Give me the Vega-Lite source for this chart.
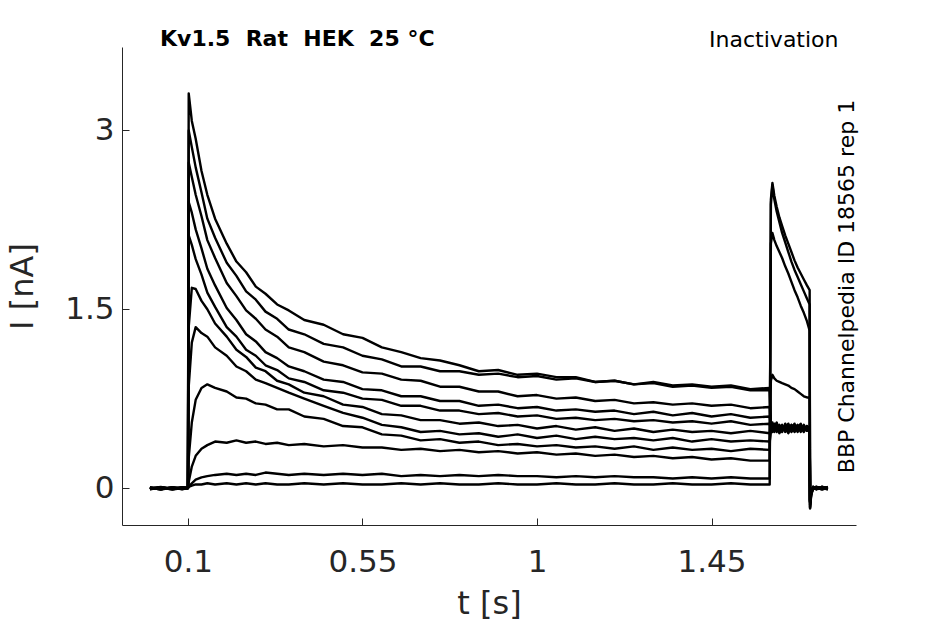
{
"$schema": "https://vega.github.io/schema/vega-lite/v6.json",
"width": 734, "height": 478,
"autosize": {"type": "none"},
"padding": {"left": 122, "top": 47, "right": 89, "bottom": 99},
"background": "white",
"config": {"view": {"stroke": null}, "font": "DejaVu Sans", "axis": {"grid": false}},
"title": {"text": "Kv1.5\u00a0 Rat\u00a0 HEK\u00a0 25 °C", "anchor": "start", "frame": "group", "fontSize": 22, "fontWeight": "bold", "color": "black", "font": "DejaVu Sans", "dx": 38, "dy": 44, "baseline": "alphabetic"},
"data": {"values": [
{"s":1,"t":0.002,"i":-0.01},{"s":1,"t":0.03,"i":0.005},{"s":1,"t":0.06,"i":-0.012},{"s":1,"t":0.085,"i":0},{"s":1,"t":0.1,"i":0},
{"s":1,"t":0.102,"i":3.31},{"s":1,"t":0.11,"i":3.08},{"s":1,"t":0.12,"i":2.93},{"s":1,"t":0.135,"i":2.66},{"s":1,"t":0.15,"i":2.46},{"s":1,"t":0.17,"i":2.26},{"s":1,"t":0.2,"i":2.05},{"s":1,"t":0.225,"i":1.9},{"s":1,"t":0.25,"i":1.81},{"s":1,"t":0.275,"i":1.69},{"s":1,"t":0.3,"i":1.63},{"s":1,"t":0.33,"i":1.54},{"s":1,"t":0.36,"i":1.49},{"s":1,"t":0.4,"i":1.41},{"s":1,"t":0.45,"i":1.37},{"s":1,"t":0.5,"i":1.29},{"s":1,"t":0.55,"i":1.26},{"s":1,"t":0.6,"i":1.18},{"s":1,"t":0.65,"i":1.14},{"s":1,"t":0.7,"i":1.09},{"s":1,"t":0.75,"i":1.07},{"s":1,"t":0.8,"i":1.03},{"s":1,"t":0.85,"i":0.98},{"s":1,"t":0.9,"i":0.99},{"s":1,"t":0.95,"i":0.95},{"s":1,"t":1.0,"i":0.96},{"s":1,"t":1.05,"i":0.93},{"s":1,"t":1.1,"i":0.93},{"s":1,"t":1.15,"i":0.89},{"s":1,"t":1.2,"i":0.9},{"s":1,"t":1.25,"i":0.87},{"s":1,"t":1.3,"i":0.89},{"s":1,"t":1.35,"i":0.86},{"s":1,"t":1.4,"i":0.87},{"s":1,"t":1.45,"i":0.85},{"s":1,"t":1.5,"i":0.86},{"s":1,"t":1.55,"i":0.83},{"s":1,"t":1.6,"i":0.84},
{"s":1,"t":1.603,"i":0.5},{"s":1,"t":1.607,"i":0.55},{"s":1,"t":1.612,"i":0.47},{"s":1,"t":1.618,"i":0.54},{"s":1,"t":1.625,"i":0.49},{"s":1,"t":1.632,"i":0.53},{"s":1,"t":1.64,"i":0.47},{"s":1,"t":1.648,"i":0.52},{"s":1,"t":1.656,"i":0.49},{"s":1,"t":1.664,"i":0.54},{"s":1,"t":1.672,"i":0.48},{"s":1,"t":1.68,"i":0.51},{"s":1,"t":1.688,"i":0.47},{"s":1,"t":1.696,"i":0.52},{"s":1,"t":1.703,"i":0.5},
{"s":1,"t":1.704,"i":-0.1},{"s":1,"t":1.707,"i":-0.03},{"s":1,"t":1.712,"i":0},{"s":1,"t":1.72,"i":0.01},{"s":1,"t":1.735,"i":-0.01},{"s":1,"t":1.75,"i":0},

{"s":2,"t":0.002,"i":0},{"s":2,"t":0.03,"i":-0.01},{"s":2,"t":0.06,"i":0.008},{"s":2,"t":0.085,"i":-0.005},{"s":2,"t":0.1,"i":0},
{"s":2,"t":0.102,"i":3.0},{"s":2,"t":0.11,"i":2.86},{"s":2,"t":0.12,"i":2.69},{"s":2,"t":0.135,"i":2.48},{"s":2,"t":0.15,"i":2.26},{"s":2,"t":0.17,"i":2.1},{"s":2,"t":0.2,"i":1.89},{"s":2,"t":0.225,"i":1.78},{"s":2,"t":0.25,"i":1.65},{"s":2,"t":0.275,"i":1.58},{"s":2,"t":0.3,"i":1.48},{"s":2,"t":0.33,"i":1.42},{"s":2,"t":0.36,"i":1.33},{"s":2,"t":0.4,"i":1.29},{"s":2,"t":0.45,"i":1.21},{"s":2,"t":0.5,"i":1.18},{"s":2,"t":0.55,"i":1.11},{"s":2,"t":0.6,"i":1.08},{"s":2,"t":0.65,"i":1.02},{"s":2,"t":0.7,"i":1.02},{"s":2,"t":0.75,"i":0.98},{"s":2,"t":0.8,"i":0.98},{"s":2,"t":0.85,"i":0.95},{"s":2,"t":0.9,"i":0.96},{"s":2,"t":0.95,"i":0.93},{"s":2,"t":1.0,"i":0.94},{"s":2,"t":1.05,"i":0.91},{"s":2,"t":1.1,"i":0.92},{"s":2,"t":1.15,"i":0.89},{"s":2,"t":1.2,"i":0.9},{"s":2,"t":1.25,"i":0.87},{"s":2,"t":1.3,"i":0.88},{"s":2,"t":1.35,"i":0.85},{"s":2,"t":1.4,"i":0.86},{"s":2,"t":1.45,"i":0.84},{"s":2,"t":1.5,"i":0.85},{"s":2,"t":1.55,"i":0.82},{"s":2,"t":1.6,"i":0.82},
{"s":2,"t":1.603,"i":0.49},{"s":2,"t":1.607,"i":0.53},{"s":2,"t":1.612,"i":0.48},{"s":2,"t":1.618,"i":0.52},{"s":2,"t":1.625,"i":0.46},{"s":2,"t":1.632,"i":0.51},{"s":2,"t":1.64,"i":0.49},{"s":2,"t":1.648,"i":0.54},{"s":2,"t":1.656,"i":0.47},{"s":2,"t":1.664,"i":0.5},{"s":2,"t":1.672,"i":0.53},{"s":2,"t":1.68,"i":0.48},{"s":2,"t":1.688,"i":0.51},{"s":2,"t":1.696,"i":0.49},{"s":2,"t":1.703,"i":0.5},
{"s":2,"t":1.704,"i":-0.11},{"s":2,"t":1.707,"i":-0.04},{"s":2,"t":1.712,"i":0.01},{"s":2,"t":1.72,"i":0},{"s":2,"t":1.735,"i":0.01},{"s":2,"t":1.75,"i":-0.01},

{"s":3,"t":0.002,"i":-0.008},{"s":3,"t":0.03,"i":0.004},{"s":3,"t":0.06,"i":-0.006},{"s":3,"t":0.085,"i":0.006},{"s":3,"t":0.1,"i":0},
{"s":3,"t":0.102,"i":2.73},{"s":3,"t":0.11,"i":2.61},{"s":3,"t":0.12,"i":2.46},{"s":3,"t":0.135,"i":2.28},{"s":3,"t":0.15,"i":2.08},{"s":3,"t":0.17,"i":1.93},{"s":3,"t":0.2,"i":1.72},{"s":3,"t":0.225,"i":1.61},{"s":3,"t":0.25,"i":1.49},{"s":3,"t":0.275,"i":1.42},{"s":3,"t":0.3,"i":1.33},{"s":3,"t":0.33,"i":1.27},{"s":3,"t":0.36,"i":1.18},{"s":3,"t":0.4,"i":1.14},{"s":3,"t":0.45,"i":1.06},{"s":3,"t":0.5,"i":1.03},{"s":3,"t":0.55,"i":0.97},{"s":3,"t":0.6,"i":0.96},{"s":3,"t":0.65,"i":0.91},{"s":3,"t":0.7,"i":0.9},{"s":3,"t":0.75,"i":0.85},{"s":3,"t":0.8,"i":0.85},{"s":3,"t":0.85,"i":0.81},{"s":3,"t":0.9,"i":0.81},{"s":3,"t":0.95,"i":0.77},{"s":3,"t":1.0,"i":0.78},{"s":3,"t":1.05,"i":0.75},{"s":3,"t":1.1,"i":0.76},{"s":3,"t":1.15,"i":0.73},{"s":3,"t":1.2,"i":0.74},{"s":3,"t":1.25,"i":0.71},{"s":3,"t":1.3,"i":0.72},{"s":3,"t":1.35,"i":0.7},{"s":3,"t":1.4,"i":0.71},{"s":3,"t":1.45,"i":0.69},{"s":3,"t":1.5,"i":0.7},{"s":3,"t":1.55,"i":0.67},{"s":3,"t":1.6,"i":0.68},
{"s":3,"t":1.603,"i":0.51},{"s":3,"t":1.607,"i":0.49},{"s":3,"t":1.612,"i":0.54},{"s":3,"t":1.618,"i":0.47},{"s":3,"t":1.625,"i":0.52},{"s":3,"t":1.632,"i":0.48},{"s":3,"t":1.64,"i":0.53},{"s":3,"t":1.648,"i":0.49},{"s":3,"t":1.656,"i":0.52},{"s":3,"t":1.664,"i":0.47},{"s":3,"t":1.672,"i":0.51},{"s":3,"t":1.68,"i":0.54},{"s":3,"t":1.688,"i":0.48},{"s":3,"t":1.696,"i":0.52},{"s":3,"t":1.703,"i":0.49},
{"s":3,"t":1.704,"i":-0.1},{"s":3,"t":1.707,"i":-0.02},{"s":3,"t":1.712,"i":0},{"s":3,"t":1.72,"i":-0.01},{"s":3,"t":1.735,"i":0.01},{"s":3,"t":1.75,"i":0},

{"s":4,"t":0.002,"i":0.006},{"s":4,"t":0.03,"i":-0.008},{"s":4,"t":0.06,"i":0.003},{"s":4,"t":0.085,"i":-0.01},{"s":4,"t":0.1,"i":0},
{"s":4,"t":0.102,"i":2.4},{"s":4,"t":0.11,"i":2.31},{"s":4,"t":0.12,"i":2.17},{"s":4,"t":0.135,"i":2.01},{"s":4,"t":0.15,"i":1.84},{"s":4,"t":0.17,"i":1.7},{"s":4,"t":0.2,"i":1.51},{"s":4,"t":0.225,"i":1.41},{"s":4,"t":0.25,"i":1.29},{"s":4,"t":0.275,"i":1.23},{"s":4,"t":0.3,"i":1.14},{"s":4,"t":0.33,"i":1.09},{"s":4,"t":0.36,"i":1.02},{"s":4,"t":0.4,"i":0.98},{"s":4,"t":0.45,"i":0.91},{"s":4,"t":0.5,"i":0.89},{"s":4,"t":0.55,"i":0.83},{"s":4,"t":0.6,"i":0.82},{"s":4,"t":0.65,"i":0.77},{"s":4,"t":0.7,"i":0.77},{"s":4,"t":0.75,"i":0.73},{"s":4,"t":0.8,"i":0.73},{"s":4,"t":0.85,"i":0.69},{"s":4,"t":0.9,"i":0.7},{"s":4,"t":0.95,"i":0.67},{"s":4,"t":1.0,"i":0.68},{"s":4,"t":1.05,"i":0.65},{"s":4,"t":1.1,"i":0.66},{"s":4,"t":1.15,"i":0.64},{"s":4,"t":1.2,"i":0.65},{"s":4,"t":1.25,"i":0.62},{"s":4,"t":1.3,"i":0.64},{"s":4,"t":1.35,"i":0.61},{"s":4,"t":1.4,"i":0.63},{"s":4,"t":1.45,"i":0.6},{"s":4,"t":1.5,"i":0.62},{"s":4,"t":1.55,"i":0.59},{"s":4,"t":1.6,"i":0.6},
{"s":4,"t":1.603,"i":0.52},{"s":4,"t":1.607,"i":0.47},{"s":4,"t":1.612,"i":0.51},{"s":4,"t":1.618,"i":0.55},{"s":4,"t":1.625,"i":0.48},{"s":4,"t":1.632,"i":0.52},{"s":4,"t":1.64,"i":0.5},{"s":4,"t":1.648,"i":0.46},{"s":4,"t":1.656,"i":0.53},{"s":4,"t":1.664,"i":0.49},{"s":4,"t":1.672,"i":0.52},{"s":4,"t":1.68,"i":0.47},{"s":4,"t":1.688,"i":0.53},{"s":4,"t":1.696,"i":0.48},{"s":4,"t":1.703,"i":0.51},
{"s":4,"t":1.704,"i":-0.12},{"s":4,"t":1.707,"i":-0.03},{"s":4,"t":1.712,"i":0.01},{"s":4,"t":1.72,"i":0},{"s":4,"t":1.735,"i":-0.01},{"s":4,"t":1.75,"i":0.01},

{"s":5,"t":0.002,"i":-0.004},{"s":5,"t":0.03,"i":0.01},{"s":5,"t":0.06,"i":-0.009},{"s":5,"t":0.085,"i":0.004},{"s":5,"t":0.1,"i":0},
{"s":5,"t":0.102,"i":2.12},{"s":5,"t":0.11,"i":2.04},{"s":5,"t":0.12,"i":1.92},{"s":5,"t":0.135,"i":1.79},{"s":5,"t":0.15,"i":1.64},{"s":5,"t":0.17,"i":1.52},{"s":5,"t":0.2,"i":1.35},{"s":5,"t":0.225,"i":1.27},{"s":5,"t":0.25,"i":1.16},{"s":5,"t":0.275,"i":1.11},{"s":5,"t":0.3,"i":1.03},{"s":5,"t":0.33,"i":0.99},{"s":5,"t":0.36,"i":0.92},{"s":5,"t":0.4,"i":0.89},{"s":5,"t":0.45,"i":0.82},{"s":5,"t":0.5,"i":0.8},{"s":5,"t":0.55,"i":0.75},{"s":5,"t":0.6,"i":0.74},{"s":5,"t":0.65,"i":0.69},{"s":5,"t":0.7,"i":0.69},{"s":5,"t":0.75,"i":0.65},{"s":5,"t":0.8,"i":0.65},{"s":5,"t":0.85,"i":0.62},{"s":5,"t":0.9,"i":0.63},{"s":5,"t":0.95,"i":0.6},{"s":5,"t":1.0,"i":0.61},{"s":5,"t":1.05,"i":0.58},{"s":5,"t":1.1,"i":0.59},{"s":5,"t":1.15,"i":0.57},{"s":5,"t":1.2,"i":0.58},{"s":5,"t":1.25,"i":0.56},{"s":5,"t":1.3,"i":0.57},{"s":5,"t":1.35,"i":0.55},{"s":5,"t":1.4,"i":0.56},{"s":5,"t":1.45,"i":0.54},{"s":5,"t":1.5,"i":0.56},{"s":5,"t":1.55,"i":0.53},{"s":5,"t":1.6,"i":0.54},
{"s":5,"t":1.603,"i":0.48},{"s":5,"t":1.607,"i":0.52},{"s":5,"t":1.612,"i":0.49},{"s":5,"t":1.618,"i":0.53},{"s":5,"t":1.625,"i":0.5},{"s":5,"t":1.632,"i":0.47},{"s":5,"t":1.64,"i":0.54},{"s":5,"t":1.648,"i":0.49},{"s":5,"t":1.656,"i":0.51},{"s":5,"t":1.664,"i":0.52},{"s":5,"t":1.672,"i":0.47},{"s":5,"t":1.68,"i":0.53},{"s":5,"t":1.688,"i":0.49},{"s":5,"t":1.696,"i":0.51},{"s":5,"t":1.703,"i":0.5},
{"s":5,"t":1.704,"i":-0.11},{"s":5,"t":1.707,"i":-0.02},{"s":5,"t":1.712,"i":-0.01},{"s":5,"t":1.72,"i":0.01},{"s":5,"t":1.735,"i":0},{"s":5,"t":1.75,"i":0},

{"s":6,"t":0.002,"i":0.004},{"s":6,"t":0.03,"i":-0.012},{"s":6,"t":0.06,"i":0.005},{"s":6,"t":0.085,"i":-0.006},{"s":6,"t":0.1,"i":0},
{"s":6,"t":0.102,"i":1.35},{"s":6,"t":0.11,"i":1.68},{"s":6,"t":0.12,"i":1.67},{"s":6,"t":0.135,"i":1.57},{"s":6,"t":0.15,"i":1.5},{"s":6,"t":0.17,"i":1.38},{"s":6,"t":0.2,"i":1.27},{"s":6,"t":0.225,"i":1.16},{"s":6,"t":0.25,"i":1.1},{"s":6,"t":0.275,"i":1.01},{"s":6,"t":0.3,"i":0.98},{"s":6,"t":0.33,"i":0.9},{"s":6,"t":0.36,"i":0.87},{"s":6,"t":0.4,"i":0.8},{"s":6,"t":0.45,"i":0.77},{"s":6,"t":0.5,"i":0.7},{"s":6,"t":0.55,"i":0.68},{"s":6,"t":0.6,"i":0.62},{"s":6,"t":0.65,"i":0.61},{"s":6,"t":0.7,"i":0.57},{"s":6,"t":0.75,"i":0.57},{"s":6,"t":0.8,"i":0.54},{"s":6,"t":0.85,"i":0.55},{"s":6,"t":0.9,"i":0.52},{"s":6,"t":0.95,"i":0.53},{"s":6,"t":1.0,"i":0.5},{"s":6,"t":1.05,"i":0.52},{"s":6,"t":1.1,"i":0.49},{"s":6,"t":1.15,"i":0.51},{"s":6,"t":1.2,"i":0.48},{"s":6,"t":1.25,"i":0.5},{"s":6,"t":1.3,"i":0.47},{"s":6,"t":1.35,"i":0.49},{"s":6,"t":1.4,"i":0.47},{"s":6,"t":1.45,"i":0.48},{"s":6,"t":1.5,"i":0.46},{"s":6,"t":1.55,"i":0.48},{"s":6,"t":1.6,"i":0.46},
{"s":6,"t":1.603,"i":0.5},{"s":6,"t":1.607,"i":0.54},{"s":6,"t":1.612,"i":0.48},{"s":6,"t":1.618,"i":0.51},{"s":6,"t":1.625,"i":0.53},{"s":6,"t":1.632,"i":0.49},{"s":6,"t":1.64,"i":0.51},{"s":6,"t":1.648,"i":0.47},{"s":6,"t":1.656,"i":0.53},{"s":6,"t":1.664,"i":0.5},{"s":6,"t":1.672,"i":0.49},{"s":6,"t":1.68,"i":0.52},{"s":6,"t":1.688,"i":0.5},{"s":6,"t":1.696,"i":0.48},{"s":6,"t":1.703,"i":0.51},
{"s":6,"t":1.704,"i":-0.12},{"s":6,"t":1.707,"i":-0.04},{"s":6,"t":1.712,"i":0},{"s":6,"t":1.72,"i":0.01},{"s":6,"t":1.735,"i":0},{"s":6,"t":1.75,"i":-0.01},

{"s":7,"t":0.002,"i":-0.006},{"s":7,"t":0.03,"i":0.007},{"s":7,"t":0.06,"i":-0.004},{"s":7,"t":0.085,"i":0.008},{"s":7,"t":0.1,"i":0},
{"s":7,"t":0.102,"i":0.85},{"s":7,"t":0.11,"i":1.22},{"s":7,"t":0.12,"i":1.35},{"s":7,"t":0.135,"i":1.3},{"s":7,"t":0.15,"i":1.27},{"s":7,"t":0.17,"i":1.18},{"s":7,"t":0.2,"i":1.11},{"s":7,"t":0.225,"i":1.02},{"s":7,"t":0.25,"i":0.98},{"s":7,"t":0.275,"i":0.91},{"s":7,"t":0.3,"i":0.88},{"s":7,"t":0.33,"i":0.84},{"s":7,"t":0.36,"i":0.8},{"s":7,"t":0.4,"i":0.75},{"s":7,"t":0.45,"i":0.69},{"s":7,"t":0.5,"i":0.63},{"s":7,"t":0.55,"i":0.59},{"s":7,"t":0.6,"i":0.53},{"s":7,"t":0.65,"i":0.51},{"s":7,"t":0.7,"i":0.47},{"s":7,"t":0.75,"i":0.48},{"s":7,"t":0.8,"i":0.45},{"s":7,"t":0.85,"i":0.46},{"s":7,"t":0.9,"i":0.43},{"s":7,"t":0.95,"i":0.45},{"s":7,"t":1.0,"i":0.42},{"s":7,"t":1.05,"i":0.44},{"s":7,"t":1.1,"i":0.41},{"s":7,"t":1.15,"i":0.43},{"s":7,"t":1.2,"i":0.41},{"s":7,"t":1.25,"i":0.42},{"s":7,"t":1.3,"i":0.4},{"s":7,"t":1.35,"i":0.42},{"s":7,"t":1.4,"i":0.39},{"s":7,"t":1.45,"i":0.41},{"s":7,"t":1.5,"i":0.39},{"s":7,"t":1.55,"i":0.4},{"s":7,"t":1.6,"i":0.39},
{"s":7,"t":1.603,"i":0.47},{"s":7,"t":1.607,"i":0.51},{"s":7,"t":1.612,"i":0.53},{"s":7,"t":1.618,"i":0.48},{"s":7,"t":1.625,"i":0.52},{"s":7,"t":1.632,"i":0.5},{"s":7,"t":1.64,"i":0.48},{"s":7,"t":1.648,"i":0.53},{"s":7,"t":1.656,"i":0.5},{"s":7,"t":1.664,"i":0.48},{"s":7,"t":1.672,"i":0.52},{"s":7,"t":1.68,"i":0.49},{"s":7,"t":1.688,"i":0.52},{"s":7,"t":1.696,"i":0.5},{"s":7,"t":1.703,"i":0.49},
{"s":7,"t":1.704,"i":-0.12},{"s":7,"t":1.707,"i":-0.03},{"s":7,"t":1.712,"i":0},{"s":7,"t":1.72,"i":-0.01},{"s":7,"t":1.735,"i":0.01},{"s":7,"t":1.75,"i":0},

{"s":8,"t":0.002,"i":0.002},{"s":8,"t":0.03,"i":-0.01},{"s":8,"t":0.06,"i":0.006},{"s":8,"t":0.085,"i":-0.003},{"s":8,"t":0.1,"i":0},
{"s":8,"t":0.102,"i":0.25},{"s":8,"t":0.11,"i":0.55},{"s":8,"t":0.12,"i":0.74},{"s":8,"t":0.135,"i":0.84},{"s":8,"t":0.15,"i":0.87},{"s":8,"t":0.17,"i":0.84},{"s":8,"t":0.2,"i":0.81},{"s":8,"t":0.225,"i":0.76},{"s":8,"t":0.25,"i":0.75},{"s":8,"t":0.275,"i":0.71},{"s":8,"t":0.3,"i":0.7},{"s":8,"t":0.33,"i":0.66},{"s":8,"t":0.36,"i":0.66},{"s":8,"t":0.4,"i":0.6},{"s":8,"t":0.45,"i":0.58},{"s":8,"t":0.5,"i":0.52},{"s":8,"t":0.55,"i":0.51},{"s":8,"t":0.6,"i":0.45},{"s":8,"t":0.65,"i":0.44},{"s":8,"t":0.7,"i":0.4},{"s":8,"t":0.75,"i":0.41},{"s":8,"t":0.8,"i":0.38},{"s":8,"t":0.85,"i":0.39},{"s":8,"t":0.9,"i":0.36},{"s":8,"t":0.95,"i":0.37},{"s":8,"t":1.0,"i":0.35},{"s":8,"t":1.05,"i":0.36},{"s":8,"t":1.1,"i":0.34},{"s":8,"t":1.15,"i":0.35},{"s":8,"t":1.2,"i":0.33},{"s":8,"t":1.25,"i":0.35},{"s":8,"t":1.3,"i":0.32},{"s":8,"t":1.35,"i":0.34},{"s":8,"t":1.4,"i":0.32},{"s":8,"t":1.45,"i":0.33},{"s":8,"t":1.5,"i":0.31},{"s":8,"t":1.55,"i":0.33},{"s":8,"t":1.6,"i":0.32},
{"s":8,"t":1.603,"i":0.9},{"s":8,"t":1.607,"i":0.95},{"s":8,"t":1.612,"i":0.92},{"s":8,"t":1.618,"i":0.9},{"s":8,"t":1.625,"i":0.89},{"s":8,"t":1.632,"i":0.88},{"s":8,"t":1.64,"i":0.87},{"s":8,"t":1.648,"i":0.86},{"s":8,"t":1.656,"i":0.84},{"s":8,"t":1.664,"i":0.83},{"s":8,"t":1.672,"i":0.81},{"s":8,"t":1.68,"i":0.79},{"s":8,"t":1.688,"i":0.77},{"s":8,"t":1.696,"i":0.76},{"s":8,"t":1.703,"i":0.76},
{"s":8,"t":1.704,"i":-0.14},{"s":8,"t":1.707,"i":-0.05},{"s":8,"t":1.712,"i":0.01},{"s":8,"t":1.72,"i":0},{"s":8,"t":1.735,"i":-0.01},{"s":8,"t":1.75,"i":0},

{"s":9,"t":0.002,"i":-0.009},{"s":9,"t":0.03,"i":0.003},{"s":9,"t":0.06,"i":-0.01},{"s":9,"t":0.085,"i":0.005},{"s":9,"t":0.1,"i":0},
{"s":9,"t":0.102,"i":0.05},{"s":9,"t":0.11,"i":0.18},{"s":9,"t":0.12,"i":0.27},{"s":9,"t":0.135,"i":0.33},{"s":9,"t":0.15,"i":0.36},{"s":9,"t":0.17,"i":0.39},{"s":9,"t":0.2,"i":0.38},{"s":9,"t":0.225,"i":0.4},{"s":9,"t":0.25,"i":0.38},{"s":9,"t":0.275,"i":0.39},{"s":9,"t":0.3,"i":0.37},{"s":9,"t":0.33,"i":0.38},{"s":9,"t":0.36,"i":0.36},{"s":9,"t":0.4,"i":0.37},{"s":9,"t":0.45,"i":0.35},{"s":9,"t":0.5,"i":0.36},{"s":9,"t":0.55,"i":0.34},{"s":9,"t":0.6,"i":0.34},{"s":9,"t":0.65,"i":0.32},{"s":9,"t":0.7,"i":0.33},{"s":9,"t":0.75,"i":0.31},{"s":9,"t":0.8,"i":0.32},{"s":9,"t":0.85,"i":0.3},{"s":9,"t":0.9,"i":0.31},{"s":9,"t":0.95,"i":0.29},{"s":9,"t":1.0,"i":0.3},{"s":9,"t":1.05,"i":0.28},{"s":9,"t":1.1,"i":0.29},{"s":9,"t":1.15,"i":0.27},{"s":9,"t":1.2,"i":0.28},{"s":9,"t":1.25,"i":0.26},{"s":9,"t":1.3,"i":0.27},{"s":9,"t":1.35,"i":0.25},{"s":9,"t":1.4,"i":0.26},{"s":9,"t":1.45,"i":0.24},{"s":9,"t":1.5,"i":0.25},{"s":9,"t":1.55,"i":0.23},{"s":9,"t":1.6,"i":0.23},
{"s":9,"t":1.603,"i":2.05},{"s":9,"t":1.607,"i":2.14},{"s":9,"t":1.612,"i":2.08},{"s":9,"t":1.618,"i":2.03},{"s":9,"t":1.625,"i":1.98},{"s":9,"t":1.632,"i":1.93},{"s":9,"t":1.64,"i":1.86},{"s":9,"t":1.648,"i":1.8},{"s":9,"t":1.656,"i":1.73},{"s":9,"t":1.664,"i":1.66},{"s":9,"t":1.672,"i":1.6},{"s":9,"t":1.68,"i":1.53},{"s":9,"t":1.688,"i":1.47},{"s":9,"t":1.696,"i":1.4},{"s":9,"t":1.703,"i":1.32},
{"s":9,"t":1.704,"i":-0.17},{"s":9,"t":1.707,"i":-0.06},{"s":9,"t":1.712,"i":0},{"s":9,"t":1.72,"i":0.01},{"s":9,"t":1.735,"i":0},{"s":9,"t":1.75,"i":-0.01},

{"s":10,"t":0.002,"i":0.005},{"s":10,"t":0.03,"i":-0.006},{"s":10,"t":0.06,"i":0.002},{"s":10,"t":0.085,"i":-0.008},{"s":10,"t":0.1,"i":0},
{"s":10,"t":0.102,"i":0.01},{"s":10,"t":0.11,"i":0.04},{"s":10,"t":0.12,"i":0.07},{"s":10,"t":0.135,"i":0.09},{"s":10,"t":0.15,"i":0.1},{"s":10,"t":0.17,"i":0.11},{"s":10,"t":0.2,"i":0.12},{"s":10,"t":0.225,"i":0.11},{"s":10,"t":0.25,"i":0.12},{"s":10,"t":0.275,"i":0.11},{"s":10,"t":0.3,"i":0.13},{"s":10,"t":0.33,"i":0.12},{"s":10,"t":0.36,"i":0.11},{"s":10,"t":0.4,"i":0.12},{"s":10,"t":0.45,"i":0.11},{"s":10,"t":0.5,"i":0.12},{"s":10,"t":0.55,"i":0.11},{"s":10,"t":0.6,"i":0.12},{"s":10,"t":0.65,"i":0.1},{"s":10,"t":0.7,"i":0.11},{"s":10,"t":0.75,"i":0.1},{"s":10,"t":0.8,"i":0.11},{"s":10,"t":0.85,"i":0.1},{"s":10,"t":0.9,"i":0.11},{"s":10,"t":0.95,"i":0.1},{"s":10,"t":1.0,"i":0.1},{"s":10,"t":1.05,"i":0.09},{"s":10,"t":1.1,"i":0.1},{"s":10,"t":1.15,"i":0.09},{"s":10,"t":1.2,"i":0.1},{"s":10,"t":1.25,"i":0.09},{"s":10,"t":1.3,"i":0.09},{"s":10,"t":1.35,"i":0.08},{"s":10,"t":1.4,"i":0.09},{"s":10,"t":1.45,"i":0.08},{"s":10,"t":1.5,"i":0.09},{"s":10,"t":1.55,"i":0.08},{"s":10,"t":1.6,"i":0.08},
{"s":10,"t":1.603,"i":2.38},{"s":10,"t":1.607,"i":2.54},{"s":10,"t":1.612,"i":2.42},{"s":10,"t":1.618,"i":2.32},{"s":10,"t":1.625,"i":2.23},{"s":10,"t":1.632,"i":2.14},{"s":10,"t":1.64,"i":2.06},{"s":10,"t":1.648,"i":1.98},{"s":10,"t":1.656,"i":1.9},{"s":10,"t":1.664,"i":1.83},{"s":10,"t":1.672,"i":1.77},{"s":10,"t":1.68,"i":1.71},{"s":10,"t":1.688,"i":1.65},{"s":10,"t":1.696,"i":1.59},{"s":10,"t":1.703,"i":1.54},
{"s":10,"t":1.704,"i":-0.17},{"s":10,"t":1.707,"i":-0.05},{"s":10,"t":1.712,"i":-0.01},{"s":10,"t":1.72,"i":0},{"s":10,"t":1.735,"i":0.01},{"s":10,"t":1.75,"i":0},

{"s":11,"t":0.002,"i":-0.003},{"s":11,"t":0.03,"i":0.008},{"s":11,"t":0.06,"i":-0.007},{"s":11,"t":0.085,"i":0.002},{"s":11,"t":0.1,"i":0},
{"s":11,"t":0.102,"i":0.01},{"s":11,"t":0.11,"i":0.02},{"s":11,"t":0.12,"i":0.03},{"s":11,"t":0.135,"i":0.03},{"s":11,"t":0.15,"i":0.04},{"s":11,"t":0.17,"i":0.03},{"s":11,"t":0.2,"i":0.04},{"s":11,"t":0.225,"i":0.03},{"s":11,"t":0.25,"i":0.04},{"s":11,"t":0.275,"i":0.03},{"s":11,"t":0.3,"i":0.04},{"s":11,"t":0.33,"i":0.03},{"s":11,"t":0.36,"i":0.03},{"s":11,"t":0.4,"i":0.04},{"s":11,"t":0.45,"i":0.03},{"s":11,"t":0.5,"i":0.04},{"s":11,"t":0.55,"i":0.03},{"s":11,"t":0.6,"i":0.03},{"s":11,"t":0.65,"i":0.04},{"s":11,"t":0.7,"i":0.03},{"s":11,"t":0.75,"i":0.04},{"s":11,"t":0.8,"i":0.03},{"s":11,"t":0.85,"i":0.03},{"s":11,"t":0.9,"i":0.04},{"s":11,"t":0.95,"i":0.03},{"s":11,"t":1.0,"i":0.03},{"s":11,"t":1.05,"i":0.04},{"s":11,"t":1.1,"i":0.03},{"s":11,"t":1.15,"i":0.03},{"s":11,"t":1.2,"i":0.04},{"s":11,"t":1.25,"i":0.03},{"s":11,"t":1.3,"i":0.03},{"s":11,"t":1.35,"i":0.04},{"s":11,"t":1.4,"i":0.03},{"s":11,"t":1.45,"i":0.03},{"s":11,"t":1.5,"i":0.04},{"s":11,"t":1.55,"i":0.03},{"s":11,"t":1.6,"i":0.03},
{"s":11,"t":1.603,"i":2.42},{"s":11,"t":1.607,"i":2.56},{"s":11,"t":1.612,"i":2.45},{"s":11,"t":1.618,"i":2.36},{"s":11,"t":1.625,"i":2.27},{"s":11,"t":1.632,"i":2.2},{"s":11,"t":1.64,"i":2.12},{"s":11,"t":1.648,"i":2.05},{"s":11,"t":1.656,"i":1.98},{"s":11,"t":1.664,"i":1.91},{"s":11,"t":1.672,"i":1.85},{"s":11,"t":1.68,"i":1.8},{"s":11,"t":1.688,"i":1.75},{"s":11,"t":1.696,"i":1.7},{"s":11,"t":1.703,"i":1.66},
{"s":11,"t":1.704,"i":-0.16},{"s":11,"t":1.707,"i":-0.04},{"s":11,"t":1.712,"i":0},{"s":11,"t":1.72,"i":-0.01},{"s":11,"t":1.735,"i":0},{"s":11,"t":1.75,"i":0}
]},
"layer": [
{
"mark": {"type": "line", "color": "black", "strokeWidth": 2.4, "strokeJoin": "round"},
"encoding": {
"x": {"field": "t", "type": "quantitative",
 "scale": {"domain": [-0.07, 1.8225], "nice": false, "zero": false},
 "axis": {"orient": "bottom", "values": [0.1, 0.55, 1, 1.45], "labelExpr": "toString(datum.value)", "title": "t [s]",
  "domainColor": "#262626", "domainWidth": 1, "tickColor": "#262626", "tickSize": -7, "tickWidth": 1,
  "labelFontSize": 31, "labelColor": "#262626", "labelPadding": 29, "labelFlush": false, "labelOverlap": false,
  "titleFontSize": 32, "titleFontWeight": "normal", "titleColor": "#262626", "titlePadding": 11}},
"y": {"field": "i", "type": "quantitative",
 "scale": {"domain": [-0.31, 3.7], "nice": false, "zero": false},
 "axis": {"orient": "left", "values": [0, 1.5, 3], "labelExpr": "toString(datum.value)", "title": "I [nA]",
  "domainColor": "#262626", "domainWidth": 1, "tickColor": "#262626", "tickSize": -7, "tickWidth": 1,
  "labelFontSize": 31, "labelColor": "#262626", "labelPadding": 15, "labelFlush": false, "labelOverlap": false,
  "titleFontSize": 32, "titleFontWeight": "normal", "titleColor": "#262626", "titlePadding": 25}},
"detail": {"field": "s", "type": "nominal"}
}
},
{
"transform": [{"filter": "datum.s == 11 && datum.t < 0.01"}],
"mark": {"type": "point", "opacity": 0},
"encoding": {
"x": {"field": "t", "type": "quantitative",
 "axis": {"orient": "top", "title": "Inactivation", "domain": false, "ticks": false, "labels": false,
  "titleFontSize": 22, "titleFontWeight": "normal", "titleColor": "black", "titleAnchor": "end", "titleAlign": "right", "titleX": 716, "titleBaseline": "alphabetic", "titlePadding": 1}},
"y": {"field": "i", "type": "quantitative",
 "axis": {"orient": "right", "title": "BBP Channelpedia ID 18565 rep 1", "domain": false, "ticks": false, "labels": false,
  "titleFontSize": 22, "titleFontWeight": "normal", "titleColor": "black", "titleAngle": 270, "titleBaseline": "alphabetic", "titlePadding": -3}}
}
}
]
}
